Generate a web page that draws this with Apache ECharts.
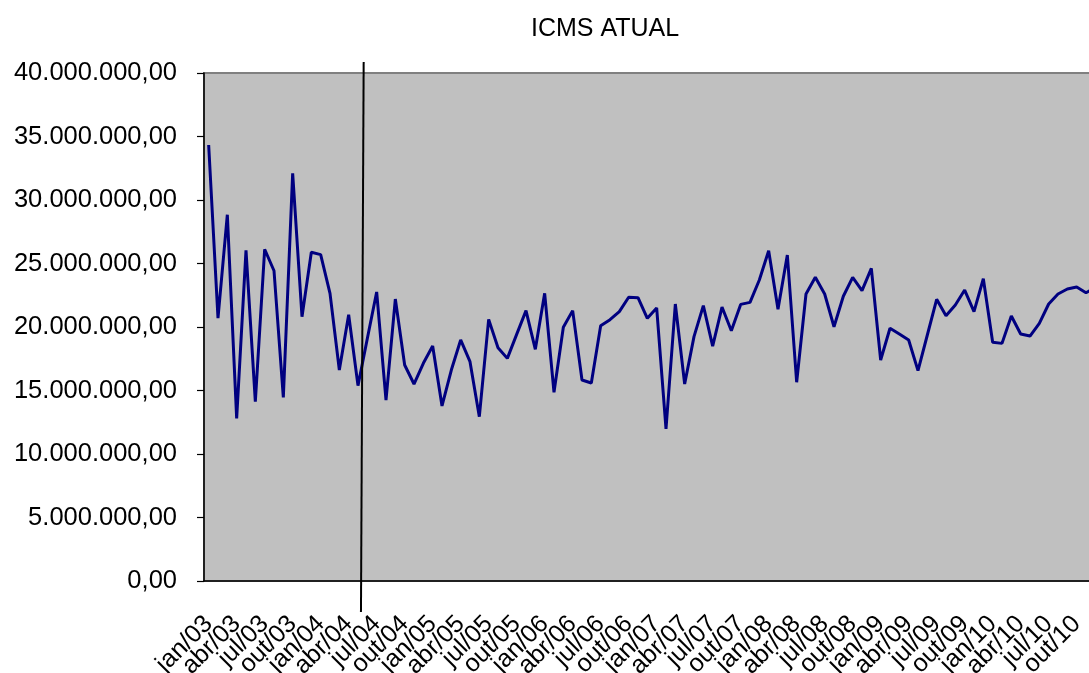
<!DOCTYPE html>
<html>
<head>
<meta charset="utf-8">
<script src="https://cdn.jsdelivr.net/npm/echarts@6/dist/echarts.min.js"></script>
<style>
html,body{margin:0;padding:0;background:#fff;overflow:hidden;width:1089px;height:673px;}
#chart{width:1110px;height:673px;}
</style>
</head>
<body>
<div id="chart"></div>
<script>
var monthNames = ['jan','fev','mar','abr','mai','jun','jul','ago','set','out','nov','dez'];
var years = ['03','04','05','06','07','08','09','10'];
var categories = [];
years.forEach(function (y) { monthNames.forEach(function (m) { categories.push(m + '/' + y); }); });

var icmsValues = [
  34330000, 20690000, 28840000, 12810000, 26040000, 14120000, 26120000, 24430000, 14460000, 32100000, 20810000, 25880000,
  25700000, 22650000, 16610000, 20970000, 15380000, 19100000, 22760000, 14250000, 22200000, 17010000, 15510000, 17140000,
  18500000, 13780000, 16610000, 18980000, 17270000, 12940000, 20600000, 18370000, 17530000, 19420000, 21290000, 18240000,
  22650000, 14860000, 19980000, 21290000, 15830000, 15590000, 20100000, 20580000, 21210000, 22340000, 22310000, 20680000,
  21500000, 11970000, 21810000, 15510000, 19240000, 21680000, 18500000, 21570000, 19710000, 21780000, 21940000, 23700000,
  26010000, 21390000, 25670000, 15650000, 22600000, 23910000, 22600000, 20020000, 22420000, 23910000, 22860000, 24620000,
  17400000, 19900000, 19450000, 18980000, 16560000, 19370000, 22180000, 20890000, 21730000, 22910000, 21210000, 23800000,
  18800000, 18710000, 20870000, 19450000, 19290000, 20290000, 21810000, 22600000, 22990000, 23150000, 22700000, 23100000
];

var yMin = 0, yMax = 40000000, yStep = 5000000;
var labelEvery = 3;
var titleText = 'ICMS ATUAL';
var markerBoundaryIndex = 17; // vertical line drawn between mai/04 and jun/04

function fmtBR(v) {
  var s = Math.round(v).toString();
  var out = '';
  while (s.length > 3) { out = '.' + s.slice(-3) + out; s = s.slice(0, -3); }
  return s + out + ',00';
}

var FONT = '"Liberation Sans", Arial, sans-serif';
var chart = echarts.init(document.getElementById('chart'), null, {renderer: 'canvas'});
var option = {
  animation: false,
  backgroundColor: '#ffffff',
  title: {
    text: titleText,
    left: 526,
    top: 12,
    textStyle: {fontFamily: FONT, fontSize: 25, fontWeight: 'normal', color: '#000'}
  },
  grid: {
    left: 204, top: 73, bottom: 92, width: 896,
    containLabel: false, outerBoundsMode: 'none',
    show: true, backgroundColor: '#c0c0c0', borderColor: '#808080', borderWidth: 2
  },
  xAxis: {
    type: 'category',
    data: categories,
    boundaryGap: true,
    axisLine: {lineStyle: {color: '#000', width: 1.5}},
    axisTick: {interval: labelEvery - 1, length: 7, lineStyle: {color: '#000', width: 1.2}},
    axisLabel: {
      interval: 0, rotate: 45, margin: 39,
      showMinLabel: true, showMaxLabel: false, hideOverlap: false,
      fontFamily: FONT, fontSize: 25, color: '#000',
      formatter: function (v, i) { return i % labelEvery === 0 ? v : ''; }
    },
    splitLine: {show: false}
  },
  yAxis: {
    type: 'value',
    min: yMin, max: yMax, interval: yStep,
    axisLine: {show: true, lineStyle: {color: '#000', width: 1.5}},
    axisTick: {show: true, length: 7, lineStyle: {color: '#000', width: 1.2}},
    axisLabel: {margin: 27, fontFamily: FONT, fontSize: 25.5, color: '#000', formatter: fmtBR},
    splitLine: {show: false}
  },
  series: [{
    type: 'line',
    data: icmsValues,
    symbol: 'none',
    lineStyle: {color: '#000080', width: 3},
    itemStyle: {color: '#000080'}
  }]
};
chart.setOption(option);

var xa = chart.convertToPixel({xAxisIndex: 0}, markerBoundaryIndex - 1);
var xb = chart.convertToPixel({xAxisIndex: 0}, markerBoundaryIndex);
var xm = (xa + xb) / 2;
chart.setOption({
  graphic: [{
    type: 'line',
    shape: {x1: xm + 1, y1: 62, x2: xm - 1.7, y2: 612},
    style: {stroke: '#000', lineWidth: 2},
    z: 100
  }]
});
</script>
</body>
</html>
